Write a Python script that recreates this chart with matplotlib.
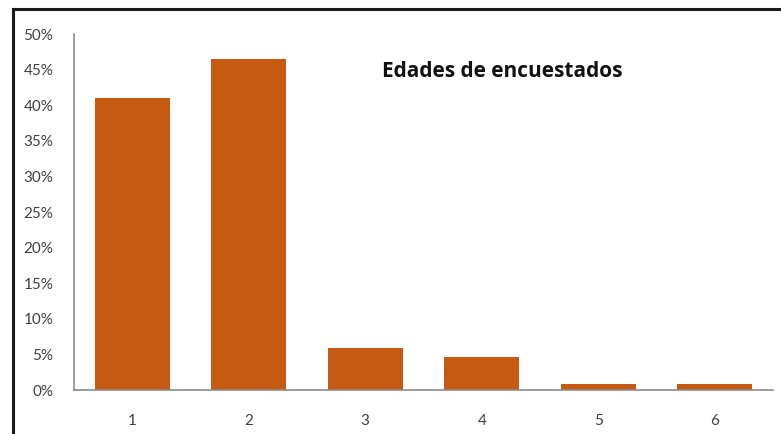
import matplotlib.pyplot as plt
from matplotlib.lines import Line2D
from matplotlib.ticker import PercentFormatter

# age groups of the people surveyed (share of answers)
grupos = ["1", "2", "3", "4", "5", "6"]
porcentajes = [0.410, 0.465, 0.059, 0.047, 0.009, 0.009]
yticks = [0.0, 0.05, 0.10, 0.15, 0.20, 0.25, 0.30, 0.35, 0.40, 0.45, 0.50]

plt.rcParams["font.family"] = ["Lato", "DejaVu Sans"]

W, H = 781, 434
fig = plt.figure(figsize=(W / 100, H / 100), dpi=100)
fig.patch.set_facecolor("white")

ax = fig.add_axes([74 / W, (H - 390) / H, (773 - 74) / W, (390 - 34) / H])
x = list(range(len(grupos)))
ax.bar(x, porcentajes, width=0.64, color="#C65A12", zorder=2)

ax.set_xlim(-0.5, len(grupos) - 0.5)
ax.set_ylim(0, 0.5)
ax.set_xticks(x)
ax.set_xticklabels(grupos)
ax.set_yticks(yticks)
ax.yaxis.set_major_formatter(PercentFormatter(1.0, decimals=0))

for side in ("top", "right"):
    ax.spines[side].set_visible(False)
for side in ("left", "bottom"):
    ax.spines[side].set_color("#8c8c8c")
    ax.spines[side].set_linewidth(1.2)

ax.tick_params(axis="both", length=0, labelsize=11, colors="#404040")
ax.tick_params(axis="y", pad=15)
ax.tick_params(axis="x", pad=17)

ax.text(0.612, 0.895, "Edades de encuestados", transform=ax.transAxes,
        ha="center", va="center", fontsize=15, fontweight="bold", color="#111111",
        family=["Open Sans", "DejaVu Sans"])

# frame drawn only on the top and left edges
fig.add_artist(Line2D([13 / W, 13 / W], [0, (H - 9) / H], color="#1a1a1a", lw=2.2,
                      transform=fig.transFigure))
fig.add_artist(Line2D([13 / W, 1], [(H - 9) / H, (H - 9) / H], color="#1a1a1a", lw=2.2,
                      transform=fig.transFigure))

fig.savefig("out.png", dpi=100)
